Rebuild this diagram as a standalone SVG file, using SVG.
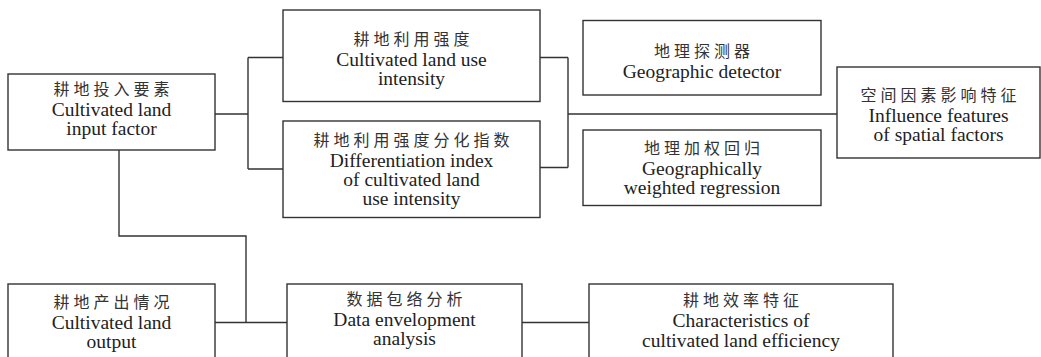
<svg xmlns="http://www.w3.org/2000/svg" width="1041" height="357" viewBox="0 0 1041 357">
<style>
.box{fill:#fff;stroke:#333;stroke-width:1.4}
.con{fill:none;stroke:#333;stroke-width:1.4}
.zh{font-family:"Noto Sans CJK SC","Noto Sans",sans-serif;font-size:16px;fill:#333;text-anchor:middle;letter-spacing:4px}
.en{font-family:"Liberation Serif","Times New Roman",serif;font-size:19.5px;fill:#222;text-anchor:middle}
</style>
<rect width="1041" height="357" fill="#fff"/>
<g id="connectors">
<path class="con" d="M215,114H248M248,57.5V169M248,57.5H283M248,169H283"/>
<path class="con" d="M540,57.5H568M540,167.5H568M568,57.5V167.5M568,114H837"/>
<path class="con" d="M119,150V236H246V322.5"/>
<path class="con" d="M215,322.5H287M522,322.5H589"/>
</g>
<g id="input">
<rect class="box" x="8" y="74" width="207" height="76"/>
<text class="zh" x="113.5" y="95">耕地投入要素</text>
<text class="en" x="111.5" y="116">Cultivated land</text>
<text class="en" x="111.5" y="135">input factor</text>
</g>
<g id="intensity">
<rect class="box" x="283" y="10" width="257" height="91.5"/>
<text class="zh" x="413.5" y="45">耕地利用强度</text>
<text class="en" x="411.5" y="66">Cultivated land use</text>
<text class="en" x="411.5" y="85">intensity</text>
</g>
<g id="differentiation">
<rect class="box" x="283" y="121" width="257" height="96.5"/>
<text class="zh" x="413.5" y="146">耕地利用强度分化指数</text>
<text class="en" x="411.5" y="167">Differentiation index</text>
<text class="en" x="411.5" y="186">of cultivated land</text>
<text class="en" x="411.5" y="205">use intensity</text>
</g>
<g id="detector">
<rect class="box" x="583" y="20.5" width="238" height="74.5"/>
<text class="zh" x="704" y="57">地理探测器</text>
<text class="en" x="702" y="78">Geographic detector</text>
</g>
<g id="gwr">
<rect class="box" x="583" y="130" width="238" height="75.5"/>
<text class="zh" x="704" y="154">地理加权回归</text>
<text class="en" x="702" y="175">Geographically</text>
<text class="en" x="702" y="194">weighted regression</text>
</g>
<g id="spatial">
<rect class="box" x="837" y="67" width="203" height="91"/>
<text class="zh" x="940.5" y="101">空间因素影响特征</text>
<text class="en" x="938.5" y="122">Influence features</text>
<text class="en" x="938.5" y="141">of spatial factors</text>
</g>
<g id="output">
<rect class="box" x="8" y="284" width="207" height="90"/>
<text class="zh" x="113.5" y="308">耕地产出情况</text>
<text class="en" x="111.5" y="329">Cultivated land</text>
<text class="en" x="111.5" y="348">output</text>
</g>
<g id="dea">
<rect class="box" x="287" y="284" width="235" height="90"/>
<text class="zh" x="406.5" y="305">数据包络分析</text>
<text class="en" x="404.5" y="326">Data envelopment</text>
<text class="en" x="404.5" y="345">analysis</text>
</g>
<g id="efficiency">
<rect class="box" x="589" y="284" width="304" height="90"/>
<text class="zh" x="743" y="306">耕地效率特征</text>
<text class="en" x="741" y="327">Characteristics of</text>
<text class="en" x="741" y="347">cultivated land efficiency</text>
</g>
</svg>
